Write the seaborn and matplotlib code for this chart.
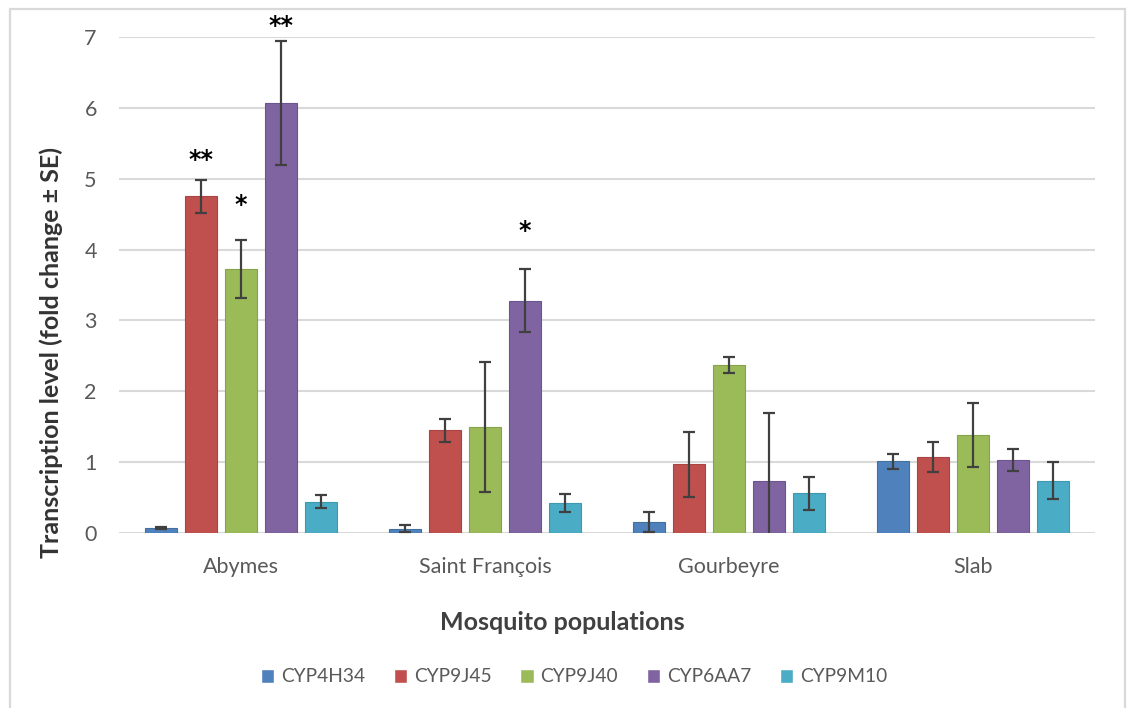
import matplotlib
matplotlib.use("Agg")
import matplotlib.pyplot as plt
import pandas as pd
import seaborn as sns
from matplotlib.patches import Rectangle

populations = ["Abymes", "Saint François", "Gourbeyre", "Slab"]
genes = ["CYP4H34", "CYP9J45", "CYP9J40", "CYP6AA7", "CYP9M10"]

# Mean fold change per population, one list per gene
cyp4h34 = [0.07, 0.06, 0.15, 1.01]
cyp9j45 = [4.75, 1.45, 0.97, 1.07]
cyp9j40 = [3.73, 1.50, 2.37, 1.38]
cyp6aa7 = [6.07, 3.28, 0.73, 1.03]
cyp9m10 = [0.44, 0.42, 0.56, 0.74]

# Standard errors, same layout
se_cyp4h34 = [0.01, 0.05, 0.14, 0.10]
se_cyp9j45 = [0.23, 0.16, 0.46, 0.21]
se_cyp9j40 = [0.41, 0.92, 0.11, 0.45]
se_cyp6aa7 = [0.87, 0.44, 0.96, 0.15]
se_cyp9m10 = [0.09, 0.13, 0.23, 0.26]

# Significance markers: (population, gene, label, height of label)
significance = [
    ("Abymes", "CYP9J45", "**", 5.35),
    ("Abymes", "CYP9J40", "*", 4.72),
    ("Abymes", "CYP6AA7", "**", 7.24),
    ("Saint François", "CYP6AA7", "*", 4.35),
]

colors = ["#4F81BD", "#C0504D", "#9BBB59", "#8064A2", "#4BACC6"]
edge_colors = ["#41719C", "#A94442", "#84A34A", "#6C5490", "#3E98AF"]

means = [cyp4h34, cyp9j45, cyp9j40, cyp6aa7, cyp9m10]
errors = [se_cyp4h34, se_cyp9j45, se_cyp9j40, se_cyp6aa7, se_cyp9m10]

rows = []
for g, m_list, e_list in zip(genes, means, errors):
    for p, m, e in zip(populations, m_list, e_list):
        rows.append({"population": p, "gene": g, "value": m, "se": e})
df = pd.DataFrame(rows)

sns.set_theme(style="white")
plt.rcParams["font.family"] = ["Lato", "DejaVu Sans"]

W, H = 1127, 708
fig = plt.figure(figsize=(W / 100, H / 100), dpi=100)
ax = fig.add_axes([119 / W, 1 - 533 / H, (1095 - 119) / W, (533 - 37) / H])

sns.barplot(
    data=df, x="population", y="value", hue="gene",
    order=populations, hue_order=genes, palette=colors,
    errorbar=None, width=0.82, gap=0.22, saturation=1,
    ax=ax, zorder=3,
)
bar_containers = list(ax.containers)

# Error bars and bar outlines, gene by gene
for gi, cont in enumerate(bar_containers):
    g = genes[gi]
    sub = df[df["gene"] == g].set_index("population").loc[populations]
    for bar, (_, r) in zip(cont, sub.iterrows()):
        bar.set_edgecolor(edge_colors[gi])
        bar.set_linewidth(0.8)
        cx = bar.get_x() + bar.get_width() / 2
        ax.errorbar(cx, r["value"], yerr=r["se"], fmt="none",
                    ecolor="#404040", elinewidth=1.6, capsize=4.5,
                    capthick=1.6, zorder=4, clip_on=True)

# Significance asterisks above bars (glyph centred on the given height)
star_size = 17
gene_pos = {g: i for i, g in enumerate(genes)}
pop_pos = {p: i for i, p in enumerate(populations)}
for p, g, lab, yv in significance:
    bar = bar_containers[gene_pos[g]][pop_pos[p]]
    cx = bar.get_x() + bar.get_width() / 2
    ax.annotate(lab, (cx, yv), xytext=(0, -0.55 * star_size),
                textcoords="offset points", ha="center", va="baseline",
                fontsize=star_size, fontweight="bold", color="black",
                family="DejaVu Sans", annotation_clip=False, zorder=5)

ax.set_ylim(0, 7)
ax.set_yticks(range(0, 8))
ax.set_xlim(-0.5, 3.5)
ax.grid(axis="y", color="#D9D9D9", linewidth=1.5, zorder=0)
ax.set_axisbelow(True)
for s in ax.spines.values():
    s.set_visible(False)
ax.tick_params(axis="both", length=0, labelsize=15.5, labelcolor="#595959")
ax.tick_params(axis="y", pad=16)
ax.tick_params(axis="x", pad=17)
ax.set_xlabel("")
ax.set_ylabel("")

fig.text(562 / W, 1 - 622 / H, "Mosquito populations", ha="center",
         va="center", fontsize=18, fontweight="bold", color="#404040")
fig.text(51 / W, 1 - 352 / H, "Transcription level (fold change ± SE)",
         ha="center", va="center", rotation=90, fontsize=18,
         fontweight="bold", color="#333333")

handles, labels = ax.get_legend_handles_labels()
ax.legend(handles, labels, loc="center", ncol=5, frameon=False,
          bbox_to_anchor=(574 / W, 1 - 677 / H), bbox_transform=fig.transFigure,
          fontsize=13.8, handlelength=0.7, handleheight=0.7,
          handletextpad=0.35, columnspacing=1.5, labelcolor="#595959")

# Chart-area frame
fig.add_artist(Rectangle((10 / W, -0.05), (1125 - 10) / W, 1.05 - 9 / H,
                         transform=fig.transFigure, fill=False,
                         edgecolor="#D9D9D9", linewidth=1.6))

fig.savefig("out.png", dpi=100, facecolor="white")
